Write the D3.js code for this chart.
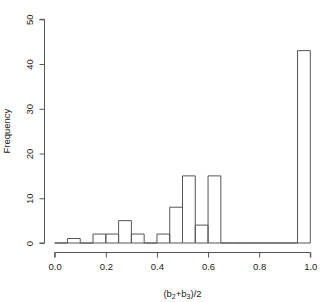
<!DOCTYPE html>
<html>
<head>
<meta charset="utf-8">
<script src="https://cdn.jsdelivr.net/npm/d3@7"></script>
<style>
  body { margin: 0; background: #fff; }
  svg { display: block; }
  text { font-family: 'Liberation Sans', Arial, sans-serif; fill: #222; }
</style>
</head>
<body>
<svg width="320" height="302" viewBox="0 0 320 302"></svg>
<script>
// histogram bins (width 0.05) and counts
const binStarts = [0, 0.05, 0.1, 0.15, 0.2, 0.25, 0.3, 0.35, 0.4, 0.45, 0.5, 0.55, 0.6, 0.65, 0.7, 0.75, 0.8, 0.85, 0.9, 0.95]
const counts = [0, 1, 0, 2, 2, 5, 2, 0, 2, 8, 15, 4, 15, 0, 0, 0, 0, 0, 0, 43]
const binWidth = 0.05
const xTicks = [0, 0.2, 0.4, 0.6, 0.8, 1.0]
const yTicks = [0, 10, 20, 30, 40, 50]

const svg = d3.select('svg')
const stroke = '#555'
const fs = 9.5

const x = d3.scaleLinear().domain([0, 1]).range([54.7, 310.3])
const y = d3.scaleLinear().domain([0, 50]).range([243, 19.3])

const data = binStarts.map((s, i) => ({ x0: s, x1: s + binWidth, n: counts[i] }))

// bars as closed paths so empty bins still draw a baseline segment
svg.append('g').selectAll('path')
  .data(data)
  .enter().append('path')
  .attr('d', d => `M${x(d.x0)},${y(0)}V${y(d.n)}H${x(d.x1)}V${y(0)}Z`)
  .attr('fill', 'none')
  .attr('stroke', stroke)
  .attr('stroke-width', 1)

// x axis
const xAxis = d3.axisBottom(x).tickValues(xTicks).tickFormat(d3.format('.1f')).tickSize(5).tickPadding(6)
const gx = svg.append('g').attr('transform', 'translate(0,252.5)').call(xAxis)
gx.select('.domain').attr('stroke', stroke).attr('d', `M${x(0)},5V0H${x(1)}V5`)
gx.selectAll('.tick line').attr('stroke', stroke)
gx.selectAll('.tick text').attr('font-size', fs).style('fill', '#222')

// y axis, labels rotated like R's default
const yAxis = d3.axisLeft(y).tickValues(yTicks).tickSize(5).tickFormat(d3.format('d'))
const gy = svg.append('g').attr('transform', 'translate(44.5,0)').call(yAxis)
gy.select('.domain').attr('stroke', stroke).attr('d', `M-5,${y(0)}H0V${y(50)}H-5`)
gy.selectAll('.tick line').attr('stroke', stroke)
gy.selectAll('.tick text')
  .attr('font-size', fs).style('fill', '#222')
  .attr('text-anchor', 'middle')
  .attr('x', 0).attr('y', 0).attr('dy', null)
  .attr('dominant-baseline', 'central')
  .attr('transform', 'translate(-15,0) rotate(-90)')

// axis titles
svg.append('text')
  .attr('transform', `translate(6,${(y(0) + y(50)) / 2}) rotate(-90)`)
  .attr('text-anchor', 'middle')
  .attr('dominant-baseline', 'central')
  .attr('font-size', fs)
  .text('Frequency')

const xl = svg.append('text')
  .attr('x', (x(0) + x(1)) / 2)
  .attr('y', 297)
  .attr('text-anchor', 'middle')
  .attr('font-size', fs)
xl.append('tspan').text('(b')
xl.append('tspan').attr('font-size', 7).attr('dy', 2).text('2')
xl.append('tspan').attr('dy', -2).text('+b')
xl.append('tspan').attr('font-size', 7).attr('dy', 2).text('3')
xl.append('tspan').attr('dy', -2).text(')/2')
</script>
</body>
</html>
